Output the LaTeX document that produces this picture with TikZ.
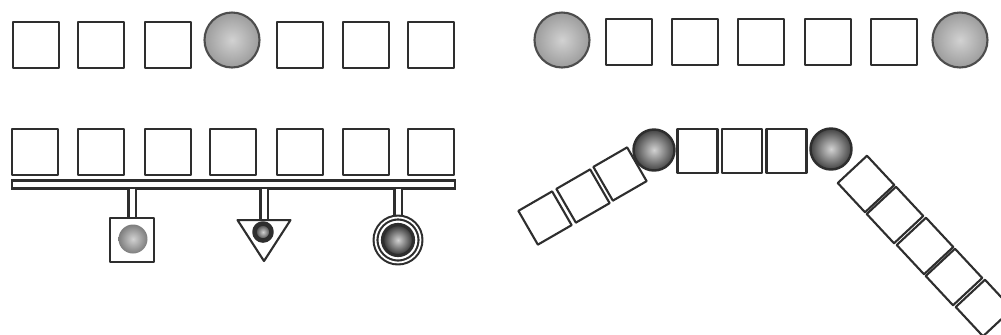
\documentclass[tikz,border=0pt]{standalone}
\usepackage{xcolor}
\usepackage{tikz}
\usetikzlibrary{backgrounds,calc,shapes.geometric}
\definecolor{ckInk}{HTML}{2E2E2E}
\definecolor{ckGrey}{HTML}{9C9C9C}
\definecolor{ckPale}{HTML}{D2D2D2}
\tikzset{
  ck diagram/.style={line cap=round, line join=round},
  ck cell/.style={draw=ckInk, fill=white, line width=0.6pt,
    minimum size=0.46cm, inner sep=0pt},
  ck small cell/.style={ck cell, minimum size=0.39cm},
  ck ball/.style={circle, draw=ckInk!85, line width=0.6pt, inner sep=0pt,
    minimum size=0.55cm, inner color=ckPale, outer color=ckGrey},
  ck knot/.style={circle, draw=ckInk, line width=0.7pt, inner sep=0pt,
    minimum size=0.41cm, inner color=ckPale, outer color=ckInk!90},
  ck bus/.style={draw=ckInk, line width=0.6pt, inner sep=0pt,
    minimum width=4.43cm, minimum height=0.08cm},
  ck stem/.style={draw=ckInk, line width=0.6pt, double=white,
    double distance=0.05cm, line cap=butt},
  ck device/.style={draw=ckInk, fill=white, line width=0.6pt, inner sep=0pt}
}
\begin{document}
\begin{tikzpicture}[ck diagram]
\useasboundingbox (0,0) rectangle (10.01,-3.34);
% top left: one ball in a row of cells
\node[ck cell] (a1) at (0.36,-0.45) {};
\node[ck cell] (a2) at (1.01,-0.45) {};
\node[ck cell] (a3) at (1.68,-0.45) {};
\node[ck ball] (a4) at (2.32,-0.40) {};
\node[ck cell] (a5) at (3.00,-0.45) {};
\node[ck cell] (a6) at (3.66,-0.45) {};
\node[ck cell] (a7) at (4.31,-0.45) {};
% top right: balls at both ends
\node[ck ball] (b1) at (5.62,-0.40) {};
\node[ck cell] (b2) at (6.29,-0.42) {};
\node[ck cell] (b3) at (6.95,-0.42) {};
\node[ck cell] (b4) at (7.61,-0.42) {};
\node[ck cell] (b5) at (8.28,-0.42) {};
\node[ck cell] (b6) at (8.94,-0.42) {};
\node[ck ball] (b7) at (9.60,-0.40) {};
% bottom left: cells over a bus with three devices
\node[ck cell] (c1) at (0.35,-1.52) {};
\node[ck cell] (c2) at (1.01,-1.52) {};
\node[ck cell] (c3) at (1.68,-1.52) {};
\node[ck cell] (c4) at (2.33,-1.52) {};
\node[ck cell] (c5) at (3.00,-1.52) {};
\node[ck cell] (c6) at (3.66,-1.52) {};
\node[ck cell] (c7) at (4.31,-1.52) {};
\node[ck device,minimum size=0.44cm] (devSquare) at (1.32,-2.40) {};
\node[circle,inner sep=0pt,minimum size=0.29cm,inner color=ckPale,outer color=ckGrey!80!black] (devSquareCore) at (1.33,-2.39) {};
\node[ck device,isosceles triangle,isosceles triangle stretches,shape border rotate=-90,
  minimum width=0.53cm,minimum height=0.41cm,anchor=north] (devTri) at (2.64,-2.19) {};
\node[circle,draw=ckInk,line width=1.3pt,inner sep=0pt,minimum size=0.17cm,inner color=ckPale,outer color=ckInk] (devTriCore) at (2.63,-2.32) {};
\node[ck device,circle,double,double distance=0.5pt,minimum size=0.45cm] (devRing) at (3.98,-2.40) {};
\node[circle,draw=ckInk,line width=0.9pt,inner sep=0pt,minimum size=0.31cm,inner color=ckPale,outer color=ckInk] (devRingCore) at (3.98,-2.40) {};
\begin{scope}[on background layer]
\node[ck bus] (bus) at (2.335,-1.845) {};
\draw[ck stem] ($(devSquare |- bus.south)+(0,0.3pt)$) -- (devSquare.north);
\draw[ck stem] ($(devTri |- bus.south)+(0,0.3pt)$) -- (devTri.north);
\draw[ck stem] ($(devRing |- bus.south)+(0,0.3pt)$) -- (devRing.north);
\end{scope}
% bottom right: a bent chain with two knots
\node[ck knot] (knotL) at (6.54,-1.50) {};
\node[ck cell,minimum width=0.40cm,minimum height=0.44cm] (mid1) at (6.975,-1.51) {};
\node[ck cell,minimum width=0.40cm,minimum height=0.44cm] (mid2) at (7.42,-1.51) {};
\node[ck cell,minimum width=0.40cm,minimum height=0.44cm] (mid3) at (7.865,-1.51) {};
\node[ck knot] (knotR) at (8.31,-1.49) {};
\node[ck small cell,rotate=30] (armL1) at (6.20,-1.74) {};
\node[ck small cell,rotate=30] (armL2) at (5.83,-1.96) {};
\node[ck small cell,rotate=30] (armL3) at (5.45,-2.18) {};
\node[ck small cell,minimum size=0.40cm,rotate=-47] (armR1) at (8.66,-1.84) {};
\node[ck small cell,minimum size=0.40cm,rotate=-47] (armR2) at (8.95,-2.15) {};
\node[ck small cell,minimum size=0.40cm,rotate=-47] (armR3) at (9.25,-2.46) {};
\node[ck small cell,minimum size=0.40cm,rotate=-47] (armR4) at (9.54,-2.77) {};
\node[ck small cell,minimum size=0.40cm,rotate=-47] (armR5) at (9.84,-3.08) {};
\end{tikzpicture}
\end{document}
